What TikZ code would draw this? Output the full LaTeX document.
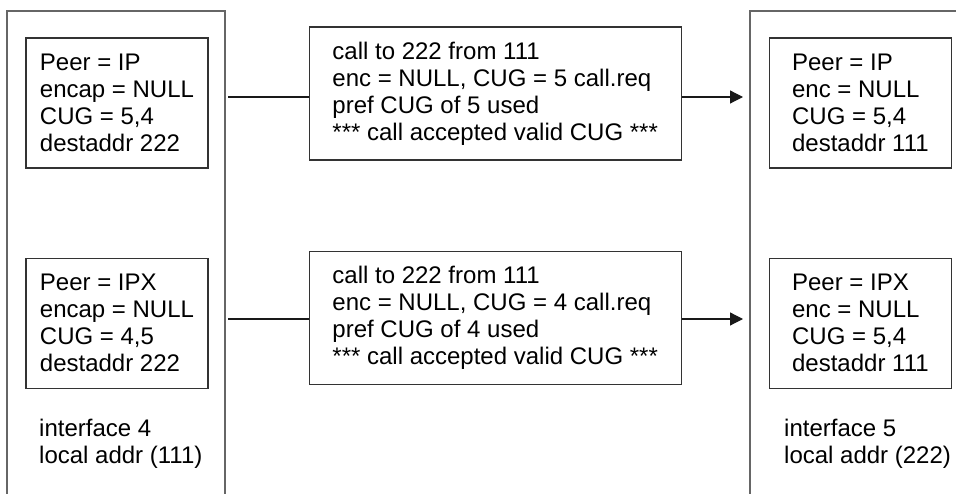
\documentclass[tikz,border=0pt]{standalone}
\usepackage{fontspec}
\setmainfont{Liberation Sans}
\usetikzlibrary{positioning,arrows.meta}
\tikzset{
 b/.style
  = {rectangle, draw=black!80, line width=1.2pt, minimum width=182pt,
     minimum height=130pt, align=left, inner sep=0pt},
 m/.style
  = {rectangle, draw=black!80, line width=1.2pt, minimum width=372pt,
     minimum height=133pt, align=left, inner sep=0pt},
 ifc/.style
  = {draw=black!60, line width=1.2pt},
 lbl/.style
  = {align=left, inner sep=0pt, anchor=west},
 l/.style
  = {draw, black!90, line width=1.2pt},
 la/.style
  = {draw, black!90, line width=1.2pt, -{Triangle[length=13pt,width=13pt]}}
}
\begin{document}
\begin{tikzpicture}[x=1pt, y=-1pt, font=\fontsize{24}{27}\selectfont]
    \useasboundingbox (0,0) rectangle (956,494);

    % the two interfaces
    \draw [ifc] (7,494) -- (7,11) -- (225,11) -- (225,494);
    \draw [ifc] (750,494) -- (750,11) -- (956,11);
    \node [lbl] (if4) at (39,444) {interface 4\\ local addr (111)};
    \node [lbl] (if5) at (784,444) {interface 5\\ local addr (222)};

    \node [b] (ipL) at (117,103) {Peer = IP\\ encap = NULL\\ CUG = 5,4\\ destaddr 222};
    \node [m, right = 100pt of ipL, yshift=9.5pt] (callA) {call to 222 from 111\\ enc = NULL, CUG = 5 call.req\\ pref CUG of 5 used\\ *** call accepted valid CUG ***};
    \node [b, right = 87pt of callA, yshift=-9.5pt] (ipR) {Peer = IP\\ enc = NULL\\ CUG = 5,4\\ destaddr 111};
    \node [b, below = 89pt of ipL] (ipxL) {Peer = IPX\\ encap = NULL\\ CUG = 4,5\\ destaddr 222};
    \node [m, below = 90pt of callA] (callB) {call to 222 from 111\\ enc = NULL, CUG = 4 call.req\\ pref CUG of 4 used\\ *** call accepted valid CUG ***};
    \node [b, below = 89pt of ipR] (ipxR) {Peer = IPX\\ enc = NULL\\ CUG = 5,4\\ destaddr 111};

    \coordinate (fromA) at (228,97);
    \coordinate (toA) at (743,97);
    \coordinate (fromB) at (228,319);
    \coordinate (toB) at (743,319);

    \path [l] (fromA) -- (fromA -| callA.west);
    \path [la] (callA.east |- toA) -- (toA);
    \path [l] (fromB) -- (fromB -| callB.west);
    \path [la] (callB.east |- toB) -- (toB);

\end{tikzpicture}
\end{document}
